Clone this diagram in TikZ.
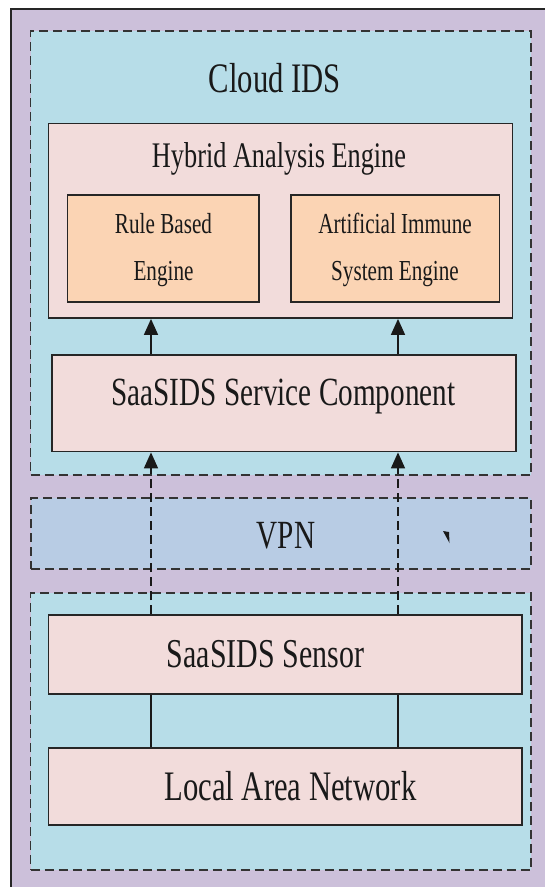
\documentclass[tikz,border=0pt]{standalone}
\usepackage{fontspec}
\setmainfont{Liberation Serif}[FakeStretch=0.73]
\usetikzlibrary{arrows.meta,fit}
\definecolor{bgpurple}{HTML}{CCC0DA}
\definecolor{cloudblue}{HTML}{B7DDE8}
\definecolor{vpnblue}{HTML}{B8CCE4}
\definecolor{boxpink}{HTML}{F2DCDB}
\definecolor{boxorange}{HTML}{FBD4B4}
\def\fsz#1{\fontsize{#1}{#1}\selectfont}

\begin{document}
\begin{tikzpicture}[x=1pt, y=-1pt,
		box/.style={draw=black!85, line width=1.8pt, fill=boxpink, inner sep=0pt},
		zone/.style={draw=black!80, line width=1.6pt, dash pattern=on 9pt off 5pt, inner sep=0pt},
		lbl/.style={anchor=base, inner sep=0pt, text=black!90},
		link/.style={line width=1.6pt, draw=black!90},
		up/.style={link, -{Triangle[length=16pt, width=14pt]}}]
			%%%%% START %%%%%
			\useasboundingbox (0,0) rectangle (544,887);
			
			% frame
			\draw[line width=1.8pt, draw=black!85, fill=bgpurple] (11,9) rectangle (560,900);
			
			% cloud side
			\node[zone, fill=cloudblue, fit={(30.5,31) (531,475)}] (cloud) {};
			\node[lbl] (cloudtxt) at (275,92.5) {\fsz{42}Cloud IDS};
			
			\node[box, fit={(48.5,123.5) (512.5,318)}] (hae) {};
			\node[lbl] (haetxt) at (279,167) {\fsz{36}Hybrid Analysis Engine};
			
			\node[box, fill=boxorange, fit={(67.5,195) (259,302)}] (rbe) {};
			\node[lbl] (rbe1) at (163.5,233) {\fsz{29}Rule Based};
			\node[lbl] (rbe2) at (163.5,280) {\fsz{29}Engine};
			
			\node[box, fill=boxorange, fit={(291,195) (499.5,302)}] (aise) {};
			\node[lbl] (aise1) at (395,233) {\fsz{29}Artificial Immune};
			\node[lbl] (aise2) at (395,280) {\fsz{29}System Engine};
			
			\node[box, fit={(52,355) (516,451.5)}] (svc) {};
			\node[lbl] (svctxt) at (283.5,405) {\fsz{40}SaaSIDS Service Component};
			
			% vpn
			\node[zone, fill=vpnblue, fit={(31,498) (531,569)}] (vpn) {};
			\node[lbl] (vpntxt) at (286,548) {\fsz{40}VPN};
			\fill[black!90] (443,531) -- (449,532) -- (449.5,543) -- cycle;
			
			% local side
			\node[zone, fill=cloudblue, fit={(30.5,593) (531,870)}] (local) {};
			
			\node[box, fit={(48.5,615) (522,694)}] (sen) {};
			\node[lbl] (sentxt) at (265.5,667) {\fsz{41}SaaSIDS Sensor};
			
			\node[box, fit={(48.5,748) (522,825)}] (lan) {};
			\node[lbl] (lantxt) at (290.5,800) {\fsz{42}Local Area Network};
			
			% links
			\coordinate (xl) at (151,0);
			\coordinate (xr) at (398,0);
			\draw[up] (xl |- svc.north) -- (xl |- hae.south);
			\draw[up] (xr |- svc.north) -- (xr |- hae.south);
			\draw[up, dash pattern=on 9pt off 5pt] (xl |- sen.north) -- (xl |- svc.south);
			\draw[up, dash pattern=on 9pt off 5pt] (xr |- sen.north) -- (xr |- svc.south);
			\draw[link] (xl |- sen.south) -- (xl |- lan.north);
			\draw[link] (xr |- sen.south) -- (xr |- lan.north);
			
			%%%%% END %%%%%
		\end{tikzpicture}
\end{document}
